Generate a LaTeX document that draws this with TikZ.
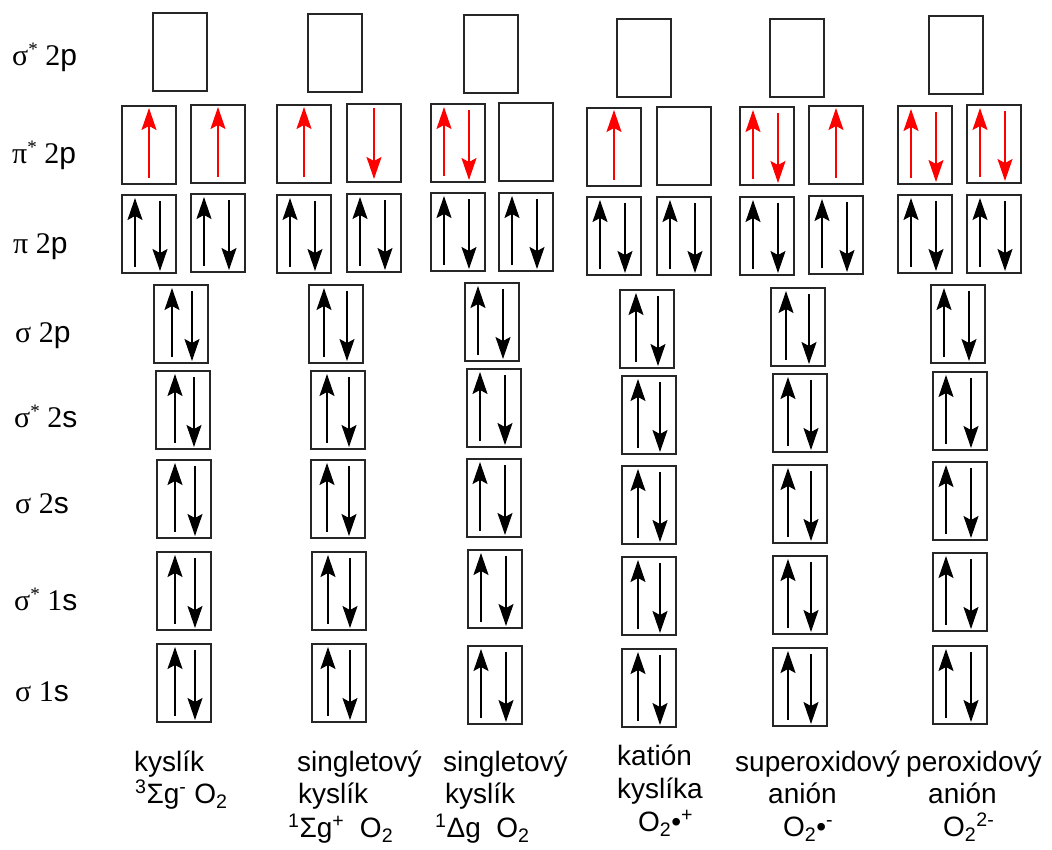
\documentclass[tikz,border=0pt]{standalone}
\usepackage{fontspec}
\setmainfont{Liberation Serif}
\setsansfont{Liberation Sans}
\usetikzlibrary{arrows.meta}
\definecolor{spinred}{RGB}{255,0,0}
\tikzset{
  orb/.style={draw=black!85, line width=1.2pt, minimum width=54pt, minimum height=78pt, inner sep=0pt, outer sep=0pt},
  spin/.style={line width=1.4pt, -{Stealth[length=22pt,width=15pt,inset=4pt]}},
  lvl/.style={font=\fontsize{30}{32}\selectfont\rmfamily, inner sep=0pt, anchor=base west},
  nm/.style={font=\fontsize{28}{30}\selectfont\sffamily, inner sep=0pt, anchor=base west}
}
% box: name, left x, top y (pixels, y downward)
\newcommand\mobox[3]{\node[orb] (#1) at ({#2+27},{#3+39}) {};}
% single up arrow, centred
\newcommand\spinU[2]{\draw[spin,#2] ([yshift=6pt]#1.south) -- ([yshift=-2pt]#1.north);}
% single down arrow, centred
\newcommand\spinD[2]{\draw[spin,#2] ([yshift=-4pt]#1.north) -- ([yshift=3pt]#1.south);}
% pair: box, colour, x offset of up arrow
\newcommand\spinP[3]{%
  \draw[spin,#2] ([xshift=#3pt,yshift=6pt]#1.south west) -- ([xshift=#3pt,yshift=-3pt]#1.north west);
  \draw[spin,#2] ([xshift=38pt,yshift=-6pt]#1.north west) -- ([xshift=38pt,yshift=2pt]#1.south west);}
\newcommand\starsup{\raisebox{0.33em}{\fontsize{19}{19}\selectfont *}}
\begin{document}
\begin{tikzpicture}[x=1pt,y=-1pt]
\useasboundingbox (0,0) rectangle (1052,849);
% ---------- level labels ----------
\node[lvl] (L1) at (12,65)  {σ\starsup\ 2\textsf{p}};
\node[lvl] (L2) at (12,163) {π\starsup\ 2\textsf{p}};
\node[lvl] (L3) at (13,253) {π 2\textsf{p}};
\node[lvl] (L4) at (15,342) {σ 2\textsf{p}};
\node[lvl] (L5) at (14,427) {σ\starsup\ 2\textsf{s}};
\node[lvl] (L6) at (15,513) {σ 2\textsf{s}};
\node[lvl] (L7) at (14,610) {σ\starsup\ 1\textsf{s}};
\node[lvl] (L8) at (15,701) {σ 1\textsf{s}};
% ---------- column 1 ----------
\mobox{a1}{153}{13}
\mobox{a2}{122}{106} \spinU{a2}{spinred}
\mobox{a3}{191}{105} \spinU{a3}{spinred}
\mobox{a4}{122}{195} \spinP{a4}{black}{13}
\mobox{a5}{191}{194} \spinP{a5}{black}{13}
\mobox{a6}{154}{285} \spinP{a6}{black}{18}
\mobox{a7}{156}{371} \spinP{a7}{black}{19}
\mobox{a8}{157}{460} \spinP{a8}{black}{18}
\mobox{a9}{157}{552} \spinP{a9}{black}{18}
\mobox{a10}{157}{644} \spinP{a10}{black}{18}
% ---------- column 2 ----------
\mobox{b1}{308}{14}
\mobox{b2}{277}{105} \spinU{b2}{spinred}
\mobox{b3}{347}{104} \spinD{b3}{spinred}
\mobox{b4}{277}{195} \spinP{b4}{black}{13}
\mobox{b5}{347}{194} \spinP{b5}{black}{13}
\mobox{b6}{309}{285} \spinP{b6}{black}{15}
\mobox{b7}{311}{371} \spinP{b7}{black}{16}
\mobox{b8}{311}{460} \spinP{b8}{black}{16}
\mobox{b9}{312}{552} \spinP{b9}{black}{16}
\mobox{b10}{312}{644} \spinP{b10}{black}{16}
% ---------- column 3 ----------
\mobox{c1}{464}{15}
\mobox{c2}{431}{104} \spinP{c2}{spinred}{13}
\mobox{c3}{499}{103}
\mobox{c4}{431}{193} \spinP{c4}{black}{13}
\mobox{c5}{499}{193} \spinP{c5}{black}{13}
\mobox{c6}{465}{283} \spinP{c6}{black}{13}
\mobox{c7}{467}{369} \spinP{c7}{black}{13}
\mobox{c8}{467}{459} \spinP{c8}{black}{13}
\mobox{c9}{468}{550} \spinP{c9}{black}{13}
\mobox{c10}{468}{646} \spinP{c10}{black}{13}
% ---------- column 4 ----------
\mobox{d1}{617}{19}
\mobox{d2}{587}{108} \spinU{d2}{spinred}
\mobox{d3}{657}{107}
\mobox{d4}{587}{197} \spinP{d4}{black}{13}
\mobox{d5}{657}{197} \spinP{d5}{black}{13}
\mobox{d6}{620}{290} \spinP{d6}{black}{16}
\mobox{d7}{622}{376} \spinP{d7}{black}{16}
\mobox{d8}{622}{466} \spinP{d8}{black}{16}
\mobox{d9}{622}{557} \spinP{d9}{black}{16}
\mobox{d10}{622}{649} \spinP{d10}{black}{16}
% ---------- column 5 ----------
\mobox{e1}{770}{19}
\mobox{e2}{740}{107} \spinP{e2}{spinred}{13}
\mobox{e3}{809}{106} \spinU{e3}{spinred}
\mobox{e4}{740}{197} \spinP{e4}{black}{13}
\mobox{e5}{809}{196} \spinP{e5}{black}{13}
\mobox{e6}{771}{288} \spinP{e6}{black}{15}
\mobox{e7}{773}{374} \spinP{e7}{black}{15}
\mobox{e8}{773}{465} \spinP{e8}{black}{15}
\mobox{e9}{773}{556} \spinP{e9}{black}{15}
\mobox{e10}{773}{648} \spinP{e10}{black}{15}
% ---------- column 6 ----------
\mobox{f1}{929}{16}
\mobox{f2}{898}{106} \spinP{f2}{spinred}{13}
\mobox{f3}{967}{105} \spinP{f3}{spinred}{13}
\mobox{f4}{898}{195} \spinP{f4}{black}{13}
\mobox{f5}{967}{195} \spinP{f5}{black}{13}
\mobox{f6}{931}{285} \spinP{f6}{black}{13}
\mobox{f7}{933}{372} \spinP{f7}{black}{13}
\mobox{f8}{933}{462} \spinP{f8}{black}{13}
\mobox{f9}{933}{553} \spinP{f9}{black}{13}
\mobox{f10}{933}{646} \spinP{f10}{black}{13}
% ---------- names ----------
\node[nm] (n1a) at (134,771) {kyslík};
\node[nm] (n1b) at (135,803) {\textsuperscript{3}Σg\textsuperscript{-} O\textsubscript{2}};
\node[nm] (n2a) at (297,771) {singletový};
\node[nm] (n2b) at (298,803) {kyslík};
\node[nm] (n2c) at (288,837) {\textsuperscript{1}Σg\textsuperscript{+}\ \ O\textsubscript{2}};
\node[nm] (n3a) at (443,771) {singletový};
\node[nm] (n3b) at (445,803) {kyslík};
\node[nm] (n3c) at (435,837) {\textsuperscript{1}Δg\ \ O\textsubscript{2}};
\node[nm] (n4a) at (617,765) {katión};
\node[nm] (n4b) at (617,798) {kyslíka};
\node[nm] (n4c) at (638,831) {O\textsubscript{2}•\textsuperscript{+}};
\node[nm] (n5a) at (735,771) {superoxidový};
\node[nm] (n5b) at (768,803) {anión};
\node[nm] (n5c) at (783,836) {O\textsubscript{2}•\textsuperscript{-}};
\node[nm] (n6a) at (906,771) {peroxidový};
\node[nm] (n6b) at (928,803) {anión};
\node[nm] (n6c) at (943,836) {O\textsubscript{2}\textsuperscript{2-}};
\end{tikzpicture}
\end{document}
